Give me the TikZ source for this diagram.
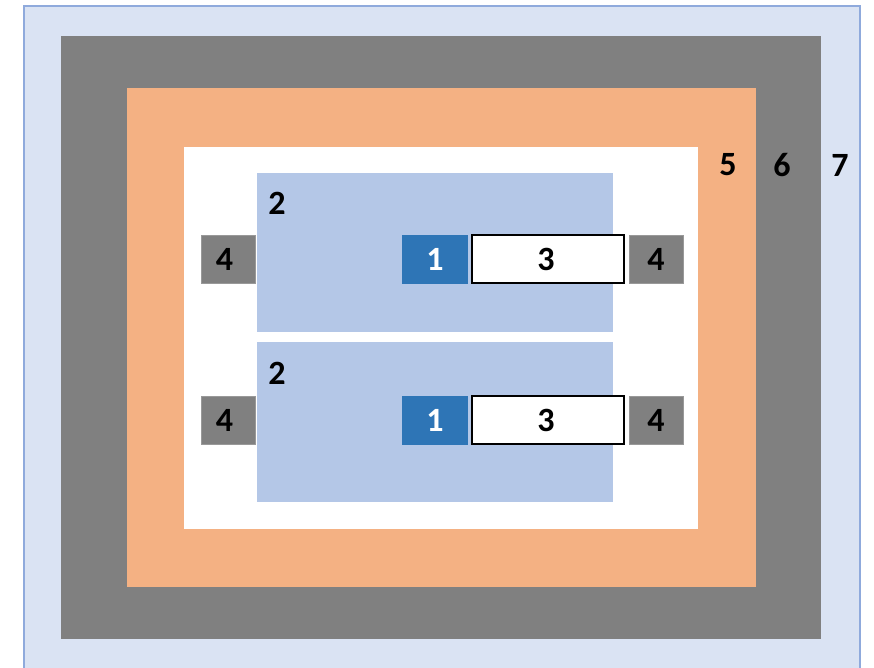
\documentclass[tikz,border=0pt]{standalone}
\usepackage{fontspec}
\setmainfont{Carlito}
\definecolor{c7}{HTML}{DAE3F3}
\definecolor{c7b}{HTML}{8FAADC}
\definecolor{cgray}{HTML}{808080}
\definecolor{corange}{HTML}{F4B183}
\definecolor{cblue2}{HTML}{B4C7E7}
\definecolor{cblue1}{HTML}{2E75B6}
\tikzset{
  lbl/.style={font=\bfseries\fontsize{34}{38}\selectfont, inner sep=0pt},
  bx/.style={inner sep=0pt, outer sep=0pt, font=\bfseries\fontsize{34}{38}\selectfont},
  box4/.style={bx, fill=cgray, draw=gray!80, line width=0.5pt},
  box1/.style={bx, fill=cblue1, text=white},
  box3/.style={bx, fill=white, draw=black, line width=1.2pt},
}
\begin{document}
\begin{tikzpicture}[x=1pt,y=-1pt]
\useasboundingbox (0,0) rectangle (874,668);
\fill[white] (0,0) rectangle (874,668);
% layer 7
\draw[fill=c7, draw=c7b, line width=1.5pt] (24,6) rectangle (860,680);
% layer 6
\fill[cgray] (61,36) rectangle (821,639);
% layer 5
\fill[corange] (127,88) rectangle (756,587);
% white
\fill[white] (184,147) rectangle (698,529);
% containers 2
\fill[cblue2] (257,173) rectangle (613,332);
\fill[cblue2] (257,342) rectangle (613,502);
\node[lbl] (l2a) at (277,203) {2};
\node[lbl] (l2b) at (277,373) {2};
% labels 5 6 7
\node[lbl] (l5) at (728,165) {5};
\node[lbl] (l6) at (782,165) {6};
\node[lbl] (l7) at (840,165) {7};
% row 1
\node[box4, minimum width=54pt, minimum height=48pt] (a4l) at (228,259) {\hspace{-7pt}4};
\node[box1, minimum width=66pt, minimum height=49pt] (a1) at (435,259) {1};
\node[box3, minimum width=152pt, minimum height=48pt] (a3) at (548,259) {\hspace{-4pt}3};
\node[box4, minimum width=54pt, minimum height=48pt] (a4r) at (656,259) {4};
% row 2
\node[box4, minimum width=54pt, minimum height=48pt] (b4l) at (228,420) {\hspace{-7pt}4};
\node[box1, minimum width=66pt, minimum height=49pt] (b1) at (435,420) {1};
\node[box3, minimum width=152pt, minimum height=48pt] (b3) at (548,420) {\hspace{-4pt}3};
\node[box4, minimum width=54pt, minimum height=48pt] (b4r) at (656,420) {4};
\end{tikzpicture}
\end{document}
